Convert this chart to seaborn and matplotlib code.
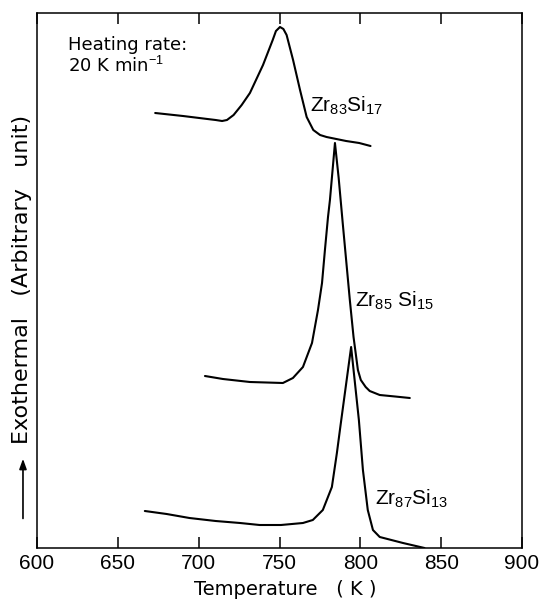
import matplotlib
matplotlib.use("Agg")
import matplotlib.pyplot as plt
import seaborn as sns
import pandas as pd

# ---- data (y in arbitrary units) ----
T_83 = [673.1, 690.3, 705.4, 710.5, 714.5, 717.5, 721.6, 726.6, 731.7, 739.8, 745.8, 747.8,
        750.3, 752.4, 754.4, 758.4, 762.7, 766.8, 770.9, 775.1, 779.1, 791.2, 799.3, 806.3]
H_83 = [435, 432, 429, 428, 427, 428, 433, 443, 455, 483, 508, 517,
        521, 519, 513, 488, 458, 431, 418, 413, 411, 407, 405, 402]

T_85 = [703.9, 715, 731.7, 752.1, 758.3, 764.5, 770.1, 773.8, 776.3, 778.1, 780.0, 781.2,
        784.3, 786.6, 789.1, 793.5, 795.8, 798.5, 800.3, 803.3, 805.8, 812.0, 821.5, 830.6]
H_85 = [172, 169, 166, 165, 170, 181, 205, 238, 265, 298, 331, 348,
        405, 370, 325, 248, 211, 178, 168, 161, 157, 153, 151.5, 150]

T_87 = [666.7, 680.2, 694.3, 710.5, 725.6, 737.7, 750.9, 764.5, 770.6, 776.8, 782.4, 785.5,
        787.7, 794.3, 799.1, 801.6, 804.6, 807.8, 812.0, 826.4, 839.7]
H_87 = [37, 34, 30, 27, 25, 23, 23, 25, 28, 38, 61, 95,
        122, 201, 128, 78, 38, 18, 11, 5, 0]

x_ticks = [600, 650, 700, 750, 800, 850, 900]
labels = [r"Zr$_{83}$Si$_{17}$", r"Zr$_{85}$ Si$_{15}$", r"Zr$_{87}$Si$_{13}$"]

df = pd.concat([
    pd.DataFrame({"T": T_83, "H": H_83, "alloy": "Zr83Si17"}),
    pd.DataFrame({"T": T_85, "H": H_85, "alloy": "Zr85Si15"}),
    pd.DataFrame({"T": T_87, "H": H_87, "alloy": "Zr87Si13"}),
], ignore_index=True)

sns.set_theme(style="white")
plt.rcParams["font.family"] = ["DejaVu Sans"]
plt.rcParams["mathtext.fontset"] = "custom"
plt.rcParams["mathtext.rm"] = "Liberation Sans"
plt.rcParams["mathtext.it"] = "Liberation Sans:italic"
plt.rcParams["mathtext.bf"] = "Liberation Sans:bold"
plt.rcParams["mathtext.default"] = "rm"
for k in ["text.color", "axes.labelcolor", "xtick.color", "ytick.color"]:
    plt.rcParams[k] = "black"

fig = plt.figure(figsize=(5.42, 5.99), dpi=100)
ax = fig.add_axes([37 / 542, 1 - 548 / 599, 485 / 542, 535 / 599])

sns.lineplot(data=df, x="T", y="H", units="alloy", estimator=None, sort=False,
             color="black", linewidth=1.5, ax=ax, legend=False)

ax.set_xlim(600, 900)
ax.set_ylim(0, 535)
ax.set_xticks(x_ticks)
ax.set_yticks([])
ax.tick_params(axis="x", direction="in", length=8, width=1.1, top=True, bottom=True,
               labelsize=15, pad=4, colors="black")
for lab in ax.get_xticklabels():
    lab.set_fontfamily("Liberation Sans")
for s in ax.spines.values():
    s.set_color("black")
    s.set_linewidth(1.1)

ax.set_xlabel("Temperature   ( K )", fontsize=14)
ax.xaxis.set_label_coords(0.511, -0.059)
ax.set_ylabel("Exothermal   (Arbitrary   unit)", fontsize=16)
ax.yaxis.set_label_coords(-0.010, 0.502)

ax.annotate("", xy=(-0.0289, 0.172), xytext=(-0.0289, 0.05), xycoords="axes fraction",
            textcoords="axes fraction", annotation_clip=False,
            arrowprops=dict(arrowstyle="-|>,head_length=0.5,head_width=0.18",
                            color="black", lw=1.2))

ax.text(619.2, 498, "Heating rate:", fontsize=13, ha="left", va="baseline")
ax.text(619.2, 476, r"20 K min$^{-1}$", fontsize=13, ha="left", va="baseline")

ax.text(768.8, 436, labels[0], fontsize=15, family="Liberation Sans", ha="left", va="baseline")
ax.text(796.7, 241, labels[1], fontsize=15, family="Liberation Sans", ha="left", va="baseline")
ax.text(809.0, 43, labels[2], fontsize=15, family="Liberation Sans", ha="left", va="baseline")

fig.savefig("out.png", dpi=100)
